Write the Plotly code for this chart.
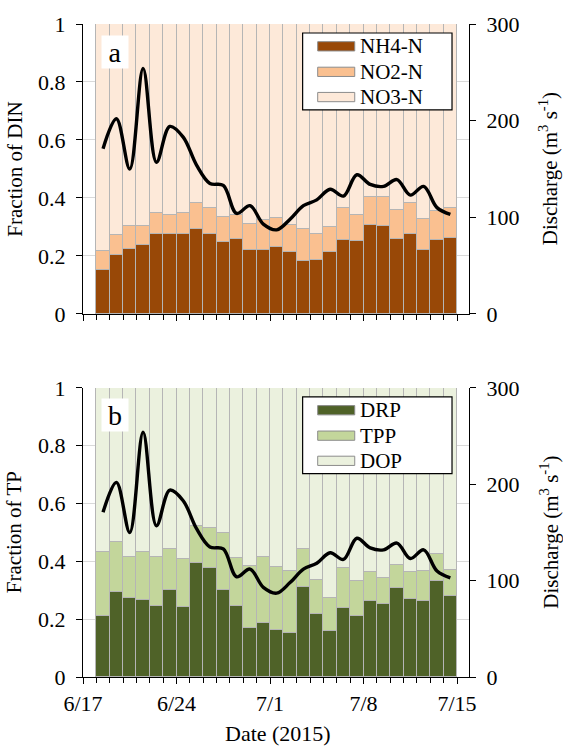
import plotly.graph_objects as go

# Sampling days (bars centred at noon of each day)
days = [
    "2015-06-18", "2015-06-19", "2015-06-20", "2015-06-21", "2015-06-22",
    "2015-06-23", "2015-06-24", "2015-06-25", "2015-06-26", "2015-06-27",
    "2015-06-28", "2015-06-29", "2015-06-30", "2015-07-01", "2015-07-02",
    "2015-07-03", "2015-07-04", "2015-07-05", "2015-07-06", "2015-07-07",
    "2015-07-08", "2015-07-09", "2015-07-10", "2015-07-11", "2015-07-12",
    "2015-07-13", "2015-07-14",
]

# Fractions of DIN
nh4 = [0.151, 0.204, 0.224, 0.237, 0.277, 0.274, 0.277, 0.294, 0.274, 0.248,
       0.258, 0.220, 0.220, 0.232, 0.213, 0.181, 0.185, 0.213, 0.256, 0.251,
       0.307, 0.303, 0.259, 0.274, 0.221, 0.255, 0.263]
no2 = [0.065, 0.067, 0.079, 0.066, 0.070, 0.068, 0.072, 0.087, 0.091, 0.086,
       0.083, 0.089, 0.103, 0.099, 0.094, 0.113, 0.089, 0.086, 0.109, 0.090,
       0.095, 0.102, 0.101, 0.109, 0.107, 0.101, 0.104]
no3 = [0.784, 0.729, 0.697, 0.697, 0.653, 0.658, 0.651, 0.619, 0.635, 0.666,
       0.659, 0.691, 0.677, 0.669, 0.693, 0.706, 0.726, 0.701, 0.635, 0.659,
       0.598, 0.595, 0.640, 0.617, 0.672, 0.644, 0.633]

# Fractions of TP
drp = [0.211, 0.294, 0.274, 0.267, 0.246, 0.302, 0.243, 0.395, 0.376, 0.302,
       0.246, 0.169, 0.188, 0.161, 0.153, 0.313, 0.219, 0.159, 0.239, 0.211,
       0.263, 0.254, 0.309, 0.271, 0.264, 0.331, 0.279]
tpp = [0.223, 0.174, 0.143, 0.167, 0.169, 0.140, 0.167, 0.129, 0.138, 0.195,
       0.167, 0.215, 0.227, 0.221, 0.215, 0.129, 0.117, 0.114, 0.139, 0.122,
       0.100, 0.090, 0.077, 0.092, 0.104, 0.093, 0.092]
dop = [0.566, 0.532, 0.583, 0.566, 0.585, 0.558, 0.590, 0.476, 0.486, 0.503,
       0.587, 0.616, 0.585, 0.618, 0.632, 0.558, 0.664, 0.727, 0.622, 0.667,
       0.637, 0.656, 0.614, 0.637, 0.632, 0.576, 0.629]

# Daily discharge (m3/s)
discharge = [171, 202, 150, 254, 157, 194, 183, 154, 135, 133, 104, 112, 93, 87,
             98, 112, 118, 129, 122, 144, 134, 132, 139, 123, 132, 110, 103]

x_vals = [d + " 12:00" for d in days]
DAY_MS = 86400000
X_RANGE = ["2015-06-17 00:00", "2015-07-15 21:30"]

FONT = "Liberation Serif, Times New Roman, serif"
COLORS_N = {"NH4-N": "#984807", "NO2-N": "#FAC090", "NO3-N": "#FDE9D9"}
COLORS_P = {"DRP": "#4F6228", "TPP": "#C3D69B", "DOP": "#EBF1DE"}
EDGE = "#B5B5B5"

fig = go.Figure()


def add_panel(series, colors, xa, ya, ya2):
    for name, vals in series:
        fig.add_trace(go.Bar(
            x=x_vals, y=vals, name=name, width=DAY_MS,
            marker=dict(color=colors[name], line=dict(color=EDGE, width=1)),
            xaxis=xa, yaxis=ya, showlegend=False,
        ))
    fig.add_trace(go.Scatter(
        x=x_vals, y=discharge, mode="lines", name="Discharge",
        line=dict(color="black", width=3.4, shape="spline", smoothing=1.0),
        xaxis=xa, yaxis=ya2, showlegend=False,
    ))


add_panel([("NH4-N", nh4), ("NO2-N", no2), ("NO3-N", no3)], COLORS_N, "x", "y", "y2")
add_panel([("DRP", drp), ("TPP", tpp), ("DOP", dop)], COLORS_P, "x2", "y3", "y4")

tick_font = dict(family=FONT, size=22, color="black")

x_common = dict(
    type="date", range=X_RANGE, tick0="2015-06-17", dtick=7 * DAY_MS,
    tickformat="%-m/%-d", ticks="outside", ticklen=6, tickwidth=1.2,
    tickcolor="black", showline=True, linecolor="black", linewidth=1.2,
    showgrid=False, zeroline=False, tickfont=tick_font, ticklabelstandoff=0,
    minor=dict(ticks="outside", ticklen=5, tickwidth=1.2, tickcolor="black",
               dtick=DAY_MS, tick0="2015-06-17", showgrid=False),
)
x_inner = dict(
    type="date", range=X_RANGE, tick0="2015-06-17", dtick=7 * DAY_MS,
    ticks="inside", ticklen=6, tickwidth=1.2, tickcolor="black",
    showticklabels=False, showline=False, showgrid=False, zeroline=False,
)
y_left = dict(
    range=[0, 1], dtick=0.2, ticks="outside", ticklen=6, tickwidth=1.2,
    tickcolor="black", showline=True, linecolor="black", linewidth=1.2,
    showgrid=True, gridcolor="#D9D9D9", gridwidth=1, zeroline=False,
    tickfont=tick_font, ticklabelstandoff=6,
)
y_right = dict(
    range=[0, 300], dtick=100, side="right", ticks="outside", ticklen=6,
    tickwidth=1.2, tickcolor="black", showline=True, linecolor="black",
    linewidth=1.2, showgrid=False, zeroline=False, tickfont=tick_font,
    ticklabelstandoff=6,
)

TOP_DOMAIN = [0.556, 1.0]
BOT_DOMAIN = [0.0, 0.4426]

fig.update_layout(
    width=563, height=747,
    margin=dict(l=83, r=94, t=15, b=70),
    paper_bgcolor="white", plot_bgcolor="white",
    barmode="stack", bargap=0,
    font=dict(family=FONT, size=20, color="black"),
    xaxis=dict(x_common, domain=[0, 1], anchor="y", showticklabels=False),
    xaxis2=dict(x_common, domain=[0, 1], anchor="y3", showticklabels=True),
    xaxis3=dict(x_inner, overlaying="x", anchor="y"),
    xaxis4=dict(x_inner, overlaying="x2", anchor="y3"),
    yaxis=dict(y_left, domain=TOP_DOMAIN, anchor="x"),
    yaxis2=dict(y_right, overlaying="y", anchor="x"),
    yaxis3=dict(y_left, domain=BOT_DOMAIN, anchor="x2"),
    yaxis4=dict(y_right, overlaying="y3", anchor="x2"),
)

shapes = []
annotations = []


def panel_decor(xd, yd, label, entries, colors, ytitle):
    # legend frame
    shapes.append(dict(type="rect", xref=xd, yref=yd, x0=0.569, x1=0.956,
                       y0=0.704, y1=0.969, fillcolor="white",
                       line=dict(color="black", width=1.2), layer="above"))
    for name, yc in zip(entries, [0.923, 0.835, 0.748]):
        shapes.append(dict(type="rect", xref=xd, yref=yd, x0=0.608, x1=0.704,
                           y0=yc - 0.016, y1=yc + 0.016,
                           fillcolor=colors[name],
                           line=dict(color="#8C8C8C", width=1), layer="above"))
        annotations.append(dict(text=name, xref=xd, yref=yd, x=0.712, y=yc,
                                xanchor="left", yanchor="middle", showarrow=False,
                                font=dict(family=FONT, size=21, color="black")))
    # panel letter
    annotations.append(dict(text=label, xref=xd, yref=yd, x=0.083, y=0.905,
                            xanchor="center", yanchor="middle", showarrow=False,
                            bgcolor="white", width=24, height=30,
                            font=dict(family=FONT, size=28, color="black")))
    # axis titles
    annotations.append(dict(text=ytitle, xref="paper", yref=yd, x=-0.177, y=0.5,
                            xanchor="center", yanchor="middle", showarrow=False,
                            textangle=-90,
                            font=dict(family=FONT, size=21, color="black")))
    annotations.append(dict(text="Discharge (m<sup>3</sup> s<sup>-1</sup>)",
                            xref="paper", yref=yd, x=1.208, y=0.5,
                            xanchor="center", yanchor="middle", showarrow=False,
                            textangle=-90,
                            font=dict(family=FONT, size=21, color="black")))


panel_decor("x domain", "y domain", "a", ["NH4-N", "NO2-N", "NO3-N"], COLORS_N,
            "Fraction of DIN")
panel_decor("x2 domain", "y3 domain", "b", ["DRP", "TPP", "DOP"], COLORS_P,
            "Fraction of TP")

annotations.append(dict(text="Date (2015)", xref="paper", yref="paper",
                        x=0.504, y=-0.086, xanchor="center", yanchor="middle",
                        showarrow=False,
                        font=dict(family=FONT, size=22, color="black")))

fig.update_layout(shapes=shapes, annotations=annotations)

fig.write_html("out.html")
